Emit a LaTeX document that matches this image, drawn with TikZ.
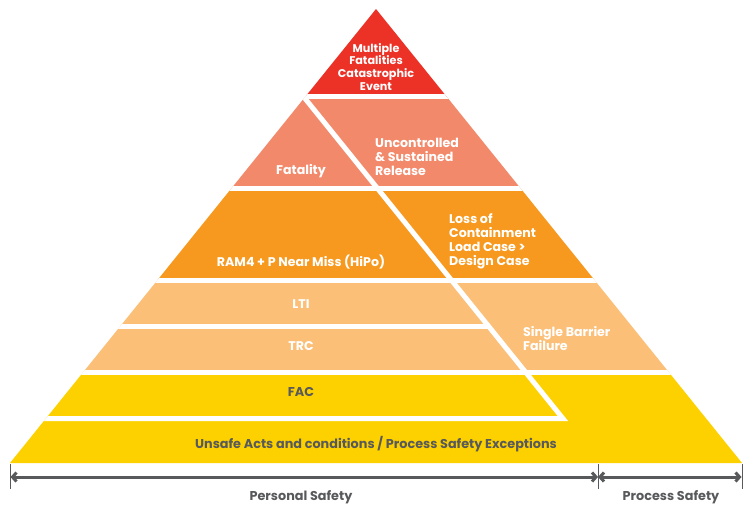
\documentclass[tikz,border=0pt]{standalone}
\usepackage{fontspec}
\setmainfont{Poppins}
\usetikzlibrary{arrows.meta}
\definecolor{catred}{HTML}{EC3227}
\definecolor{fatsalmon}{HTML}{F3896B}
\definecolor{locorange}{HTML}{F7991F}
\definecolor{ltiorange}{HTML}{FBBF78}
\definecolor{facyellow}{HTML}{FDD100}
\definecolor{txtgray}{HTML}{58595B}
\begin{document}
\begin{tikzpicture}[x=1pt,y=-1pt,
  gap/.style={white,line width=5pt},
  wlbl/.style={text=white,font=\bfseries\fontsize{12.6}{13.9}\selectfont,inner sep=0pt},
  glbl/.style={text=txtgray,font=\bfseries\fontsize{12.8}{14}\selectfont,inner sep=0pt},
  tick/.style={txtgray,line width=1pt},
  span/.style={txtgray,line width=3pt,{Straight Barb[length=4pt,width=9pt]}-{Straight Barb[length=4pt,width=9pt]}}]
\useasboundingbox (0,0) rectangle (751,514);
\begin{scope}
\clip (376,9) -- (742,463) -- (10,463) -- cycle;
\fill[catred] (0,0) rectangle (751,96.5);
\fill[fatsalmon] (0,96.5) rectangle (751,188.5);
\fill[locorange] (0,188.5) rectangle (751,280);
\fill[ltiorange] (0,280) rectangle (751,372.5);
\fill[facyellow] (0,372.5) rectangle (751,470);
\draw[gap] (0,96.5) -- (751,96.5);
\draw[gap] (0,188.5) -- (751,188.5);
\draw[gap] (0,280) -- (751,280);
\draw[gap] (0,372.5) -- (751,372.5);
\draw[gap] (0,326.5) -- (488.8,326.5);
\draw[gap] (301.4,94) -- (562.9,418.5) -- (0,418.5);
\end{scope}
\node[wlbl,align=center,font=\bfseries\fontsize{11.2}{12.9}\selectfont] (multi) at (376,67) {Multiple\\Fatalities\\Catastrophic\\Event};
\node[wlbl] (fatal) at (301,171) {Fatality};
\node[wlbl,align=left,anchor=west] (uncon) at (375,157) {Uncontrolled\\\& Sustained\\Release};
\node[wlbl] (ram) at (301,262) {RAM4 + P Near Miss (HiPo)};
\node[wlbl,align=left,anchor=west] (loss) at (449,241.5) {Loss of\\Containment\\Load Case >\\Design Case};
\node[wlbl] (lti) at (301,304) {LTI};
\node[wlbl] (trc) at (301,346) {TRC};
\node[wlbl,align=left,anchor=west] (sbf) at (523,338.5) {Single Barrier\\Failure};
\node[glbl] (fac) at (301,392) {FAC};
\node[glbl] (unsafe) at (376,444) {Unsafe Acts and conditions / Process Safety Exceptions};
\coordinate (pl) at (10.5,477);
\coordinate (pm) at (598,477);
\coordinate (pr) at (741.5,477);
\draw[tick] (10,464) -- (10,489);
\draw[tick] (598,464) -- (598,489);
\draw[tick] (742,464) -- (742,489);
\draw[span] (pl) -- (pm);
\draw[span] (pm) -- (pr);
\node[glbl] (pers) at (301,497) {Personal Safety};
\node[glbl] (proc) at (671,497) {Process Safety};
\end{tikzpicture}
\end{document}
